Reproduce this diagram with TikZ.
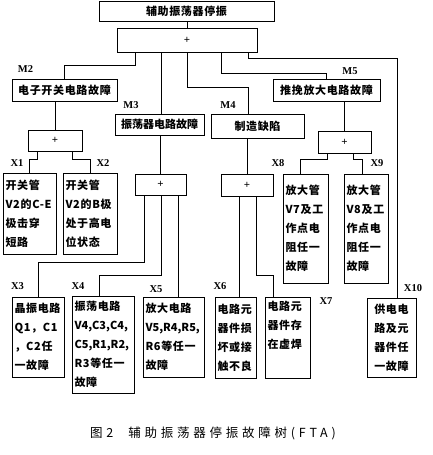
\documentclass[tikz,border=0pt]{standalone}
\usepackage{fontspec}
\usetikzlibrary{calc}
\newfontfamily\cjk{Noto Sans CJK SC}[LetterSpace=6]
\newfontfamily\cjkcap{Noto Sans CJK SC}[LetterSpace=30]
\newfontfamily\lbfont{Liberation Serif}
\tikzset{
  box/.style={draw,line width=0.9pt,inner sep=2pt,font=\cjk\bfseries\fontsize{11}{19}\selectfont,align=left},
  cbox/.style={draw,line width=0.9pt,inner sep=2pt,font=\cjk\bfseries\fontsize{11}{13}\selectfont,align=center},
  gate/.style={draw,line width=0.9pt,inner sep=0pt,font=\lbfont\bfseries\fontsize{11}{11}\selectfont},
  lab/.style={inner sep=0pt,font=\lbfont\bfseries\fontsize{10.5}{10.5}\selectfont},
  conn/.style={line width=1pt}
}
\begin{document}
\begin{tikzpicture}[x=1pt,y=-1pt]
\useasboundingbox (0,0) rectangle (432,455);
% top event and gates
\node[cbox,minimum width=175,minimum height=20] (top) at (186.5,11) {辅助振荡器停振};
\node[gate,minimum width=140,minimum height=24] (g1) at (187,40) {+};
\node[cbox,minimum width=105,minimum height=22] (M2) at (64.5,90) {电子开关电路故障};
\node[cbox,minimum width=89,minimum height=21] (M3) at (159.5,124.5) {\addfontfeature{LetterSpace=0}振荡器电路故障};
\node[cbox,minimum width=93,minimum height=24] (M4) at (257.5,126) {制造缺陷};
\node[cbox,minimum width=107,minimum height=22] (M5) at (326.5,90) {推挽放大电路故障};
\node[gate,minimum width=54,minimum height=21] (g2) at (55,140.5) {+};
\node[gate,minimum width=51,minimum height=21] (g3) at (160.5,184.5) {+};
\node[gate,minimum width=52,minimum height=22] (g4) at (247,185) {+};
\node[gate,minimum width=53,minimum height=22] (g5) at (344.5,142) {+};
% basic events
\node[box,minimum width=53,minimum height=81,text width=48] (X1) at (29.5,213.5) {开关管\\V2的C-E\\极击穿\\短路};
\node[box,minimum width=54,minimum height=81,text width=49] (X2) at (90,213.5) {开关管\\V2的B极\\处于高电\\位状态};
\node[box,minimum width=45,minimum height=109,text width=40] (X8) at (305.5,228.5) {放大管\\V7及工\\作点电\\阻任一\\故障};
\node[box,minimum width=44,minimum height=109,text width=39] (X9) at (366,228.5) {放大管\\V8及工\\作点电\\阻任一\\故障};
\node[box,minimum width=52,minimum height=80,text width=47] (X3) at (38,337) {晶振电路\\Q1，C1\\，C2任\\一故障};
\node[box,minimum width=62,minimum height=97,text width=57] (X4) at (103,344.5) {振荡电路\\{\addfontfeature{LetterSpace=0}V4,C3,C4,}\\{\addfontfeature{LetterSpace=0}C5,R1,R2,}\\R3等任一\\故障};
\node[box,minimum width=61,minimum height=80,text width=56] (X5) at (173.5,337) {放大电路\\{\addfontfeature{LetterSpace=0}V5,R4,R5,}\\R6等任一\\故障};
\node[box,minimum width=41,minimum height=81,text width=36] (X6) at (235.5,337.5) {电路元\\器件损\\坏或接\\触不良};
\node[box,minimum width=45,minimum height=81,text width=40] (X7) at (287.5,337.5) {电路元\\器件存\\在虚焊\\\strut};
\node[box,minimum width=49,minimum height=79,text width=44,align=center] (X10) at (391.5,337.5) {供电电\\路及元\\器件任\\一故障};
% labels
\node[lab] (lM2) at (25.5,69) {M2};
\node[lab] (lM5) at (350,71) {M5};
\node[lab] (lM3) at (131,105) {M3};
\node[lab] (lM4) at (228,105) {M4};
\node[lab] (lX1) at (17,163) {X1};
\node[lab] (lX2) at (103,163) {X2};
\node[lab] (lX8) at (278,163) {X8};
\node[lab] (lX9) at (377,163) {X9};
\node[lab] (lX3) at (17.5,286) {X3};
\node[lab] (lX4) at (78,286) {X4};
\node[lab] (lX5) at (156,289) {X5};
\node[lab] (lX6) at (220,286) {X6};
\node[lab] (lX7) at (326,301) {X7};
\node[lab] (lX10) at (413,288) {X10};
% connectors
\draw[conn] (top.south -| g1.north) -- (g1.north);
\draw[conn] ($(g1.south)+(-52,0)$) -- ++(0,13) -| (M2.north);
\draw[conn] ($(g1.south)+(-26,0)$) -- ($(M3.north)+(1.5,0)$);
\draw[conn] (g1.south) -- ++(0,35) -| ($(M4.north)+(-9.5,0)$);
\draw[conn] ($(g1.south)+(34,0)$) -- ++(0,21) -| (M5.north);
\draw[conn] ($(g1.south)+(61,0)$) -- ++(0,6) -| ($(X10.north)+(5.5,0)$);
\draw[conn] (g2.north |- M2.south) -- (g2.north);
\draw[conn] ($(g2.south)+(-18,0)$) -- ++(0,8) -| (X1.north);
\draw[conn] ($(g2.south)+(17,0)$) -- ++(0,8) -| (X2.north);
\draw[conn] (M3.south -| g3.north) -- (g3.north);
\draw[conn] ($(g3.south)+(-16.5,0)$) -- ++(0,67) -| (X3.north);
\draw[conn] ($(g3.south)+(0.5,0)$) -- ++(0,80) -| ($(X4.north)+(-4,0)$);
\draw[conn] ($(g3.south)+(17.5,0)$) -- ($(X5.north)+(4.5,0)$);
\draw[conn] (g4.north |- M4.south) -- (g4.north);
\draw[conn] ($(g4.south)+(-8,0)$) -- ($(X6.north)+(3.5,0)$);
\draw[conn] ($(g4.south)+(9,0)$) -- ++(0,79) -| ($(X7.north)+(-14.5,0)$);
\draw[conn] (g5.north |- M5.south) -- (g5.north);
\draw[conn] ($(g5.south)+(-17.5,0)$) -- ++(0,6) -| ($(X8.north)+(-5.5,0)$);
\draw[conn] ($(g5.south)+(8.5,0)$) -- ++(0,6) -| ($(X9.north)+(-4,0)$);
% caption
\node[inner sep=0pt,font=\cjkcap\fontsize{12.5}{14}\selectfont] (cap) at (213,433) {图2\hspace{1.2em}辅助振荡器停振故障树(FTA)};
\end{tikzpicture}
\end{document}
